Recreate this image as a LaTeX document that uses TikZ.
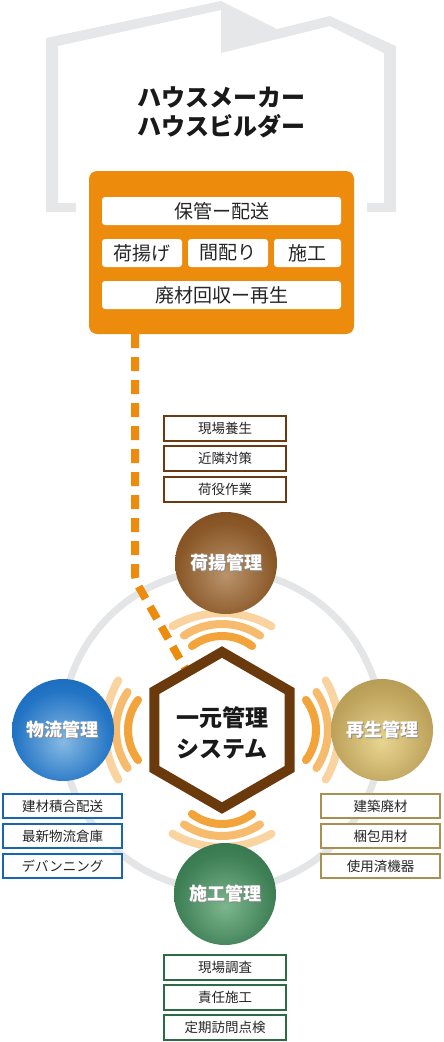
\documentclass[tikz,border=0pt]{standalone}
\usepackage{fontspec}
\setmainfont{Noto Sans CJK JP}
\usetikzlibrary{calc}
\definecolor{housegray}{HTML}{E6E7E9}
\definecolor{ringgray}{HTML}{E4E5E7}
\definecolor{mkorange}{HTML}{EC8B0C}
\definecolor{hexbrown}{HTML}{6A3A0C}
\definecolor{waveA}{HTML}{F2A33A}
\definecolor{waveB}{HTML}{F6BB6C}
\definecolor{waveC}{HTML}{FAD4A0}
\definecolor{unloadcore}{HTML}{B9936B}
\definecolor{unloadmid}{HTML}{8A5828}
\definecolor{unloadrim}{HTML}{653510}
\definecolor{logicore}{HTML}{86B9E4}
\definecolor{logimid}{HTML}{2274C4}
\definecolor{logirim}{HTML}{0A58A6}
\definecolor{recyclecore}{HTML}{E8D590}
\definecolor{recyclemid}{HTML}{BEA35C}
\definecolor{recyclerim}{HTML}{9C8440}
\definecolor{buildcore}{HTML}{7DB68D}
\definecolor{buildmid}{HTML}{3E7F55}
\definecolor{buildrim}{HTML}{25633C}
\definecolor{unloadline}{HTML}{6B3A10}
\definecolor{logiline}{HTML}{1766B2}
\definecolor{recycleline}{HTML}{A89050}
\definecolor{buildline}{HTML}{2D6B45}
\pgfdeclareradialshading{unloadball}{\pgfpoint{0bp}{-6bp}}{color(0bp)=(unloadcore); color(24bp)=(unloadmid); color(50bp)=(unloadrim); color(100bp)=(unloadrim)}
\pgfdeclareradialshading{logiball}{\pgfpoint{0bp}{-6bp}}{color(0bp)=(logicore); color(24bp)=(logimid); color(50bp)=(logirim); color(100bp)=(logirim)}
\pgfdeclareradialshading{recycleball}{\pgfpoint{0bp}{-6bp}}{color(0bp)=(recyclecore); color(24bp)=(recyclemid); color(50bp)=(recyclerim); color(100bp)=(recyclerim)}
\pgfdeclareradialshading{buildball}{\pgfpoint{0bp}{-6bp}}{color(0bp)=(buildcore); color(24bp)=(buildmid); color(50bp)=(buildrim); color(100bp)=(buildrim)}
% white label with a soft dark shadow
\newcommand{\balltext}[1]{\makebox[0pt][l]{\raisebox{-1pt}{\hspace{1pt}\textcolor{black!45}{#1}}}#1}

\begin{document}
\begin{tikzpicture}[x=1pt, y=1pt,
  title/.style={font=\bfseries\fontsize{24}{29}\selectfont, align=center, text=black!90},
  panel/.style={fill=mkorange, rounded corners=8, minimum width=265, minimum height=163},
  tag/.style={fill=white, rounded corners=3, minimum height=28, inner sep=0,
              font=\fontsize{19}{22}\selectfont, text=black!85},
  feed/.style={draw=mkorange, line width=8, dash pattern=on 14pt off 9pt, rounded corners=6},
  wave/.style={line width=8, line cap=round},
  hexframe/.style={draw=hexbrown, line width=10, fill=white},
  ball/.style={circle, minimum size=102, inner sep=0, text=white,
               font=\bfseries\fontsize{18}{20}\selectfont},
  duty/.style={draw, line width=2, fill=white, inner sep=0,
               font=\fontsize{13.5}{16}\selectfont, text=black!85},
]
\useasboundingbox (0,0) rectangle (444,-1042);
% house outline
\fill[housegray] (76,-212) -- (46,-212) -- (46,-38) -- (221,-1) -- (277,-29)
  -- (330,-16) -- (396,-46) -- (396,-212) -- (367,-212) -- (367,-203)
  -- (384,-203) -- (384,-53) -- (330,-26) -- (221,-53) -- (221,-10)
  -- (58,-46) -- (58,-203) -- (76,-203) -- cycle;
\node[title] (maker) at (221,-112.5) {ハウスメーカー\\ハウスビルダー};
% orange panel with tasks
\node[panel] (panel) at (221.5,-252.5) {};
\node[tag, minimum width=239] (store) at (221.5,-211) {保管ー配送};
\node[tag, minimum width=80] (lift) at (142,-253) {荷揚げ};
\node[tag, minimum width=80] (plan) at (228,-253) {間配り};
\node[tag, minimum width=67] (work) at (307.5,-253) {施工};
\node[tag, minimum width=239] (waste) at (221.5,-295) {廃材回収ー再生};
% ring and link
\coordinate (hub) at (222,-730);
\draw[ringgray, line width=7] (hub) circle (160);
\coordinate (bend) at (135,-580);
\coordinate (tip) at (186,-670);
\draw[feed] (panel.south -| bend) -- (bend) -- (tip);
% waves
\foreach \ang in {90,180,0,270}
  \foreach \d/\r/\a/\col in {117/99/30/waveC, 106/68/34/waveB, 94/50/37/waveA}
    \draw[wave, \col] ($(hub)+(\ang:{\d-\r})$) ++(\ang-\a:\r)
      arc[start angle=\ang-\a, end angle=\ang+\a, radius=\r];
% hexagon
\draw[hexframe] (hub) ++(90:78) -- ++(210:78) -- ++(270:78) -- ++(330:78)
  -- ++(30:78) -- ++(90:78) -- cycle;
\node[font=\bfseries\fontsize{23}{31}\selectfont, align=center, text=black!90]
  (sys) at (222,-732.5) {一元管理\\システム};
% balls
\node[ball, shading=unloadball] (unload) at (226,-563) {\balltext{荷揚管理}};
\node[ball, shading=logiball] (logi) at (63,-730) {\balltext{物流管理}};
\node[ball, shading=recycleball] (recycle) at (382,-730) {\balltext{再生管理}};
\node[ball, shading=buildball] (build) at (225,-894) {\balltext{施工管理}};
% duty lists
\foreach \txt [count=\i from 0] in {現場養生,近隣対策,荷役作業}
  \node[duty, draw=unloadline, minimum width=122, minimum height=25]
    (unload\i) at (225,-428-30.5*\i) {\txt};
\foreach \txt [count=\i from 0] in {建材積合配送,最新物流倉庫,デバンニング}
  \node[duty, draw=logiline, minimum width=119, minimum height=24]
    (logi\i) at (62.5,-806-30*\i) {\txt};
\foreach \txt [count=\i from 0] in {建築廃材,梱包用材,使用済機器}
  \node[duty, draw=recycleline, minimum width=119, minimum height=24]
    (recycle\i) at (380.5,-806-30*\i) {\txt};
\foreach \txt [count=\i from 0] in {現場調査,責任施工,定期訪問点検}
  \node[duty, draw=buildline, minimum width=122, minimum height=25]
    (build\i) at (225,-967.5-30*\i) {\txt};
\end{tikzpicture}
\end{document}
